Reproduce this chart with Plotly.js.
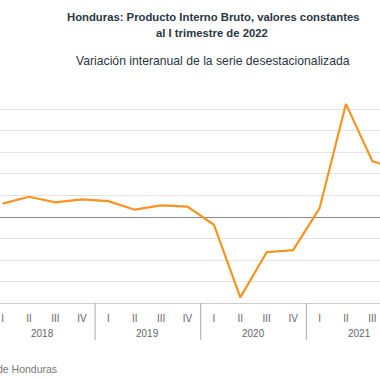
<!DOCTYPE html>
<html>
<head>
<meta charset="utf-8">
<script src="https://cdn.plot.ly/plotly-3.0.1.min.js"></script>
<style>html,body{margin:0;padding:0;background:#fff;}#chart{width:380px;height:380px;}</style>
</head>
<body>
<div id="chart"></div>
<script>
const years = ["2018","2018","2018","2018","2019","2019","2019","2019","2020","2020","2020","2020","2021","2021","2021","2021"];
const quarters = ["I","II","III","IV","I","II","III","IV","I","II","III","IV","I","II","III","IV"];
const variacion = [3.1, 4.7, 3.4, 4.1, 3.7, 1.7, 2.7, 2.4, -1.8, -18.7, -8.2, -7.7, 2.0, 26.3, 13.0, 11.0];
const titulo1 = "Honduras: Producto Interno Bruto, valores constantes";
const titulo2 = "al I trimestre de 2022";
const subtitulo = "Variación interanual de la serie desestacionalizada";
const fuente = "Fuente: Banco Central de Honduras";

const W = 380, H = 380, mT = 87, mB = 77;
const ph = H - mT - mB;
const py = px => (H - mB - px) / ph;

// category keys built from the data arrays
const cats = years.map((y, i) => y + " " + quarters[i]);

// year groups: centre positions and boundaries, from the years array
const groups = [];
years.forEach((y, i) => {
  const g = groups[groups.length - 1];
  if (!g || g.year !== y) groups.push({year: y, start: i, end: i});
  else g.end = i;
});

const shapes = groups.slice(1).map(g => ({
  type: "line", xref: "x", yref: "paper",
  x0: g.start - 0.5, x1: g.start - 0.5,
  y0: py(303), y1: py(340),
  line: {color: "#aaaaaa", width: 1}
}));

const yearAnn = groups.map(g => ({
  text: g.year, xref: "x", yref: "paper",
  x: (g.start + g.end) / 2, y: py(333),
  xanchor: "center", yanchor: "middle", showarrow: false,
  font: {size: 10, color: "#666", family: "Liberation Sans, Arial, sans-serif"}
}));

const trace = {
  type: "scatter", mode: "lines",
  x: cats, y: variacion,
  line: {color: "#F7931E", width: 2.2},
  hoverinfo: "skip"
};

const layout = {
  width: W, height: H,
  margin: {l: 0, r: 0, t: mT, b: mB, pad: 0},
  paper_bgcolor: "#fff", plot_bgcolor: "#fff",
  showlegend: false,
  font: {family: "Liberation Sans, Arial, sans-serif", color: "#666"},
  xaxis: {
    type: "category",
    categoryorder: "array", categoryarray: cats,
    tickvals: cats, ticktext: quarters,
    range: [-0.1, 14.29],
    showgrid: false,
    showline: true, linecolor: "#cccccc", linewidth: 1,
    ticks: "",
    ticklabelstandoff: 6,
    tickangle: 0,
    tickfont: {size: 10, color: "#666", family: "Liberation Sans, Arial, sans-serif"}
  },
  yaxis: {
    range: [-20, 30.23], dtick: 5, tick0: 0,
    showticklabels: false,
    showgrid: true, gridcolor: "#e3e3e3", gridwidth: 1,
    zeroline: true, zerolinecolor: "#8a8a8a", zerolinewidth: 1,
    showline: false, ticks: ""
  },
  shapes: shapes,
  annotations: [
    {text: "<b>" + titulo1 + "</b>", xref: "paper", yref: "paper", x: 213/W, y: py(17), xanchor: "center", yanchor: "middle", showarrow: false, font: {size: 11.3, color: "#2a3644", family: "Liberation Sans, Arial, sans-serif"}},
    {text: "<b>" + titulo2 + "</b>", xref: "paper", yref: "paper", x: 212/W, y: py(33), xanchor: "center", yanchor: "middle", showarrow: false, font: {size: 11.3, color: "#2a3644", family: "Liberation Sans, Arial, sans-serif"}},
    {text: subtitulo, xref: "paper", yref: "paper", x: 212.5/W, y: py(61), xanchor: "center", yanchor: "middle", showarrow: false, font: {size: 12.2, color: "#2a3644", family: "Liberation Sans, Arial, sans-serif"}},
    {text: fuente, xref: "paper", yref: "paper", x: 59/W, y: py(369), xanchor: "right", yanchor: "middle", showarrow: false, font: {size: 10.5, color: "#777", family: "Liberation Sans, Arial, sans-serif"}}
  ].concat(yearAnn)
};

Plotly.newPlot("chart", [trace], layout, {displayModeBar: false, staticPlot: true});
</script>
</body>
</html>
